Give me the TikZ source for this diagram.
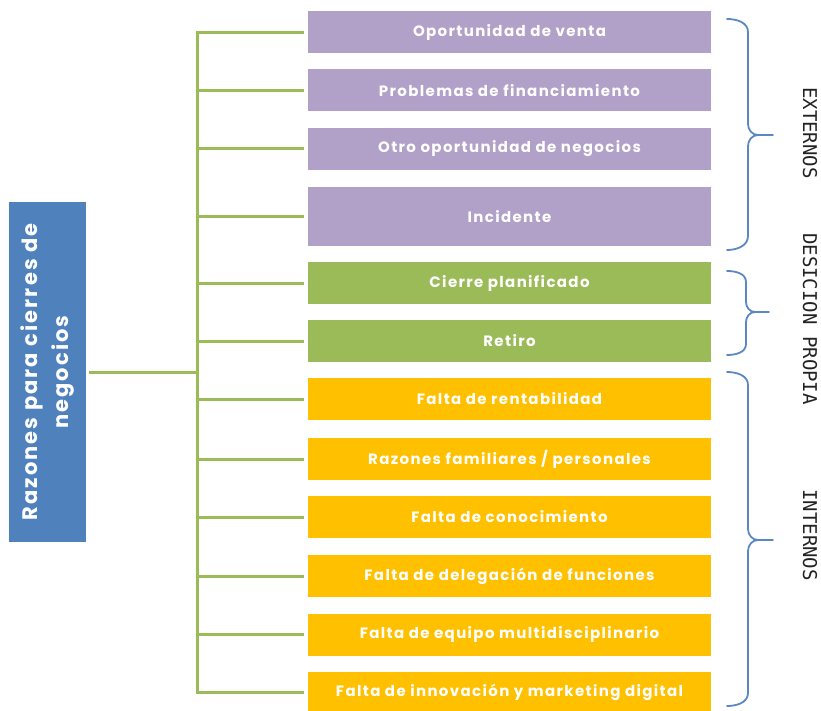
\documentclass[tikz,border=0pt]{standalone}
\usepackage{fontspec}
\newfontfamily\boxfont{Poppins}[LetterSpace=9]
\newfontfamily\rootfont{Poppins}[LetterSpace=10]
\newfontfamily\labfont{DejaVu Sans Mono}
\definecolor{purp}{HTML}{B1A0C7}
\definecolor{grn}{HTML}{9BBB59}
\definecolor{yel}{HTML}{FFC000}
\definecolor{blu}{HTML}{4F81BD}
\definecolor{brc}{HTML}{5B87C3}
\definecolor{labcol}{HTML}{222222}
\begin{document}
\begin{tikzpicture}[x=1pt,y=-1pt,
  cbox/.style={rectangle, minimum width=403, minimum height=42, inner sep=0,
    text=white, font=\boxfont\bfseries\fontsize{15}{18}\selectfont},
  conn/.style={draw=grn, line width=3pt},
  brace/.style={draw=brc, line width=1.8pt, line cap=round},
  grouplab/.style={rotate=-90, text=labcol, font=\labfont\fontsize{19}{21}\selectfont}]
\useasboundingbox (0,0) rectangle (821,711);
% root
\node[rectangle, fill=blu, minimum width=77, minimum height=340, inner sep=0] (root) at (47.5,372) {};
\node[rotate=90, text=white, align=center, font=\rootfont\bfseries\fontsize{21}{31}\selectfont] (roottext) at (root.center) {Razones para cierres de\\negocios};
% boxes
\node[cbox, fill=purp] (b1) at (509.5,32.5) {Oportunidad de venta};
\node[cbox, fill=purp] (b2) at (509.5,90.5) {Problemas de financiamiento};
\node[cbox, fill=purp] (b3) at (509.5,149) {Otro oportunidad de negocios};
\node[cbox, fill=purp, minimum height=59] (b4) at (509.5,216.5) {Incidente};
\node[cbox, fill=grn] (b5) at (509.5,283) {Cierre planificado};
\node[cbox, fill=grn] (b6) at (509.5,341) {Retiro};
\node[cbox, fill=yel] (b7) at (509.5,399) {Falta de rentabilidad};
\node[cbox, fill=yel] (b8) at (509.5,459) {Razones familiares / personales};
\node[cbox, fill=yel] (b9) at (509.5,517) {Falta de conocimiento};
\node[cbox, fill=yel] (b10) at (509.5,576) {Falta de delegación de funciones};
\node[cbox, fill=yel] (b11) at (509.5,634.5) {Falta de equipo multidisciplinario};
\node[cbox, fill=yel, minimum height=41] (b12) at (509.5,692) {Falta de innovación y marketing digital};
% connectors
\coordinate (tr) at (197,372);
\draw[conn, shorten <=3pt] (root.east) -- (root.east -| tr);
\draw[conn, line cap=rect] (b1.west -| tr) -- (b12.west -| tr);
\foreach \b in {b1,b2,b3,b4,b5,b6,b7,b8,b9,b10,b11,b12}{
  \draw[conn, shorten <=4pt] (\b.west) -- (\b.west -| tr);
}
% braces
\draw[brace] (727,19) to[out=0,in=90] (748,32) -- (748,124) to[out=-90,in=180] (758,135) -- (773,135);
\draw[brace] (758,135) to[out=180,in=90] (748,146) -- (748,236) to[out=-90,in=0] (727,250);
\draw[brace] (727,271) to[out=0,in=90] (746,282) -- (746,302) to[out=-90,in=180] (755,312) -- (769,312);
\draw[brace] (755,312) to[out=180,in=90] (746,322) -- (746,344) to[out=-90,in=0] (727,355);
\draw[brace] (727,372) to[out=0,in=90] (748,385) -- (748,529) to[out=-90,in=180] (758,540) -- (773,540);
\draw[brace] (758,540) to[out=180,in=90] (748,551) -- (748,693) to[out=-90,in=0] (727,706);
% labels
\node[grouplab] (lext) at (810,133) {EXTERNOS};
\node[grouplab] (ldes) at (810,319) {DESICION PROPIA};
\node[grouplab] (lint) at (810,535) {INTERNOS};
\end{tikzpicture}
\end{document}
